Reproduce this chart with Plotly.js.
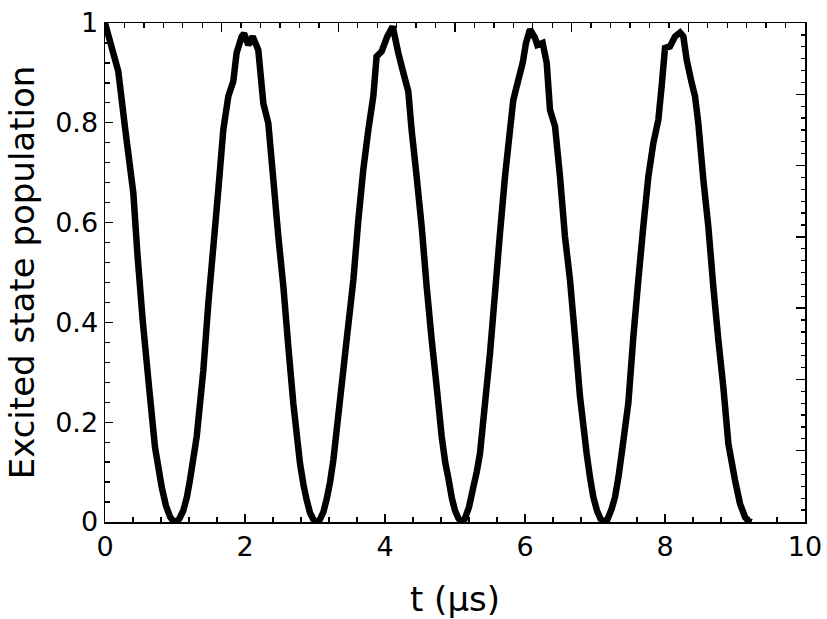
<!DOCTYPE html>
<html>
<head>
<meta charset="utf-8">
<script src="https://cdn.plot.ly/plotly-3.0.1.min.js"></script>
<style>html,body{margin:0;padding:0;background:#fff;}#chart{width:827px;height:619px;}</style>
</head>
<body>
<div id="chart"></div>
<script>
// time (µs)
var tValues = [
  0.0, 0.19, 0.29, 0.405, 0.462, 0.538, 0.629, 0.714, 0.81, 0.87, 0.93, 0.975, 1.014, 1.06, 1.119, 1.17, 1.214, 1.31, 1.405, 1.476, 1.548, 1.619, 1.69, 1.762, 1.833, 1.88, 1.952, 1.986, 2.048, 2.11, 2.19, 2.262, 2.333, 2.405, 2.476, 2.548, 2.619, 2.69, 2.786, 2.835, 2.881, 2.93, 2.98, 3.024, 3.07, 3.12, 3.167, 3.215, 3.262, 3.357, 3.452, 3.548, 3.619, 3.69, 3.762, 3.833, 3.88, 3.952, 4.033, 4.11, 4.19, 4.262, 4.333, 4.38, 4.452, 4.524, 4.595, 4.667, 4.738, 4.81, 4.86, 4.905, 4.955, 5.0, 5.05, 5.095, 5.14, 5.2, 5.262, 5.31, 5.357, 5.429, 5.5, 5.571, 5.643, 5.714, 5.786, 5.833, 5.905, 5.967, 6.014, 6.071, 6.143, 6.176, 6.252, 6.31, 6.357, 6.429, 6.5, 6.571, 6.643, 6.714, 6.786, 6.881, 6.93, 6.976, 7.03, 7.08, 7.129, 7.18, 7.235, 7.286, 7.335, 7.381, 7.476, 7.548, 7.619, 7.69, 7.762, 7.833, 7.905, 7.952, 8.0, 8.071, 8.143, 8.214, 8.262, 8.31, 8.381, 8.429, 8.476, 8.548, 8.619, 8.69, 8.762, 8.833, 8.905, 9.0, 9.071, 9.143, 9.19, 9.238
];
// excited state population
var population = [
  1.0, 0.903, 0.786, 0.659, 0.539, 0.405, 0.271, 0.150, 0.070, 0.033, 0.010, 0.002, 0.0, 0.006, 0.023, 0.05, 0.084, 0.171, 0.304, 0.438, 0.552, 0.666, 0.786, 0.853, 0.883, 0.94, 0.973, 0.979, 0.956, 0.973, 0.946, 0.839, 0.799, 0.686, 0.572, 0.472, 0.351, 0.238, 0.117, 0.075, 0.044, 0.018, 0.004, 0.0, 0.005, 0.02, 0.046, 0.08, 0.124, 0.244, 0.365, 0.485, 0.605, 0.706, 0.786, 0.853, 0.933, 0.943, 0.973, 0.993, 0.94, 0.9, 0.863, 0.786, 0.692, 0.592, 0.472, 0.365, 0.271, 0.171, 0.12, 0.088, 0.048, 0.023, 0.007, 0.0, 0.006, 0.03, 0.07, 0.1, 0.137, 0.238, 0.338, 0.458, 0.579, 0.692, 0.786, 0.846, 0.886, 0.92, 0.96, 0.987, 0.97, 0.956, 0.96, 0.92, 0.826, 0.793, 0.692, 0.572, 0.485, 0.371, 0.251, 0.137, 0.088, 0.05, 0.022, 0.006, 0.0, 0.006, 0.025, 0.05, 0.09, 0.137, 0.238, 0.371, 0.485, 0.592, 0.692, 0.759, 0.806, 0.873, 0.95, 0.953, 0.973, 0.981, 0.973, 0.926, 0.88, 0.853, 0.799, 0.686, 0.592, 0.472, 0.365, 0.271, 0.157, 0.084, 0.037, 0.01, 0.002, 0.0
];
var xTickVals = [0, 2, 4, 6, 8, 10];
var xTickText = ["0", "2", "4", "6", "8", "10"];
var yTickVals = [0, 0.2, 0.4, 0.6, 0.8, 1];
var yTickText = ["0", "0.2", "0.4", "0.6", "0.8", "1"];

var FONT = "DejaVu Sans, Verdana, sans-serif";

var traces = [
  {
    x: tValues, y: population, type: "scatter", mode: "lines",
    line: {color: "#000000", width: 6.5, simplify: false},
    hoverinfo: "skip", showlegend: false
  },
  {
    x: [0], y: [0], xaxis: "x2", yaxis: "y2", type: "scatter", mode: "markers",
    marker: {opacity: 0, size: 1}, hoverinfo: "skip", showlegend: false
  }
];

var layout = {
  width: 827, height: 619,
  margin: {l: 105, r: 22, t: 23, b: 97, pad: 0},
  paper_bgcolor: "#ffffff", plot_bgcolor: "#ffffff",
  font: {family: FONT, color: "#000000"},
  showlegend: false,
  xaxis: {
    range: [0, 10], tickmode: "array", tickvals: xTickVals, ticktext: xTickText,
    ticks: "inside", ticklen: 8, tickwidth: 1.3, tickcolor: "#000",
    minor: {dtick: 0.4, tick0: 0, ticks: "inside", ticklen: 5, tickwidth: 1.3, tickcolor: "#000", showgrid: false},
    showline: true, linecolor: "#000", linewidth: 1.5, mirror: false,
    showgrid: false, zeroline: false,
    tickfont: {family: FONT, size: 27, color: "#000"},
    title: {text: "t (µs)", font: {family: FONT, size: 34, color: "#000"}, standoff: 26},
    automargin: false, fixedrange: true
  },
  yaxis: {
    range: [0, 1], tickmode: "array", tickvals: yTickVals, ticktext: yTickText,
    ticks: "inside", ticklen: 8, tickwidth: 1.3, tickcolor: "#000",
    minor: {dtick: 0.04, tick0: 0, ticks: "inside", ticklen: 5, tickwidth: 1.3, tickcolor: "#000", showgrid: false},
    showline: true, linecolor: "#000", linewidth: 1.5, mirror: false,
    showgrid: false, zeroline: false,
    tickfont: {family: FONT, size: 27, color: "#000"},
    title: {text: "Excited state population", font: {family: FONT, size: 34, color: "#000"}, standoff: 10},
    automargin: false, fixedrange: true
  },
  xaxis2: {
    overlaying: "x", side: "top", range: [0, 10], tick0: 0, dtick: 5/3,
    showticklabels: false, ticks: "inside", ticklen: 9, tickwidth: 1.3, tickcolor: "#000",
    minor: {dtick: 5/18, tick0: 0, ticks: "inside", ticklen: 5, tickwidth: 1.3, tickcolor: "#000", showgrid: false},
    showline: true, linecolor: "#000", linewidth: 1.5, showgrid: false, zeroline: false,
    automargin: false, fixedrange: true
  },
  yaxis2: {
    overlaying: "y", side: "right", range: [0, 1], tick0: 0, dtick: 1/7,
    showticklabels: false, ticks: "inside", ticklen: 9, tickwidth: 1.3, tickcolor: "#000",
    minor: {dtick: 1/42, tick0: 0, ticks: "inside", ticklen: 4, tickwidth: 1.3, tickcolor: "#000", showgrid: false},
    showline: true, linecolor: "#000", linewidth: 1.5, showgrid: false, zeroline: false,
    automargin: false, fixedrange: true
  }
};

Plotly.newPlot("chart", traces, layout, {displayModeBar: false, staticPlot: true});
</script>
</body>
</html>
